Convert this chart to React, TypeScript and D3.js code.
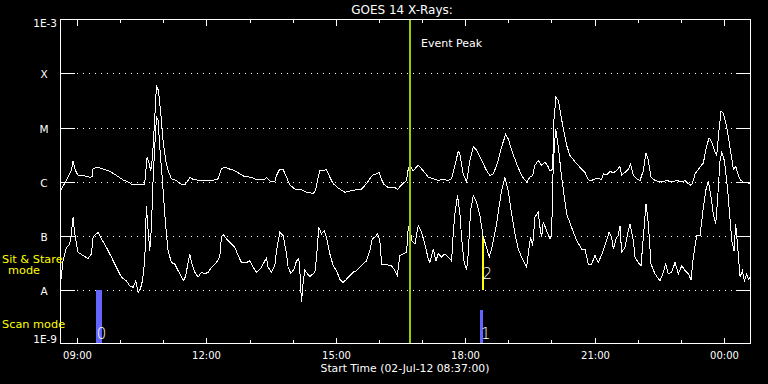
import React from "react";
import * as d3 from "d3";

// ---- data (time = minutes after start 02-Jul-12 08:37 UT, value = log10 flux W/m^2) ----
const startTimeLabel = "Start Time (02-Jul-12 08:37:00)";
const titleText = "GOES 14 X-Rays:";
const spanMinutes = 960;
const eventPeakMinute = 486; // 16:43

const longChannel: [number, number][] = [
  [0, -6.17], [8, -5.98], [15, -5.8], [17.5, -5.62], [20, -5.77], [24, -5.88], [31, -5.89], [41, -5.92], [44, -5.91], [45, -5.77],
  [52, -5.73], [59, -5.77], [68.5, -5.81], [78, -5.89], [87, -5.97], [94, -6.01], [99, -6.05], [108, -6.05], [117, -6.05], [118.6, -5.83],
  [120.5, -5.54], [123.3, -5.67], [125.6, -5.8], [127.9, -5.55], [130.2, -5.05], [133.5, -4.24], [136.2, -4.31], [139.5, -4.74], [142.7, -5.24], [146.4, -5.61],
  [149.7, -5.8], [154.3, -5.95], [161.3, -5.98], [165.9, -6.04], [172.9, -6.06], [177.5, -5.98], [179.9, -5.92], [184.5, -5.96], [193.8, -5.98], [203.1, -5.99],
  [212.3, -5.98], [219.3, -5.95], [223.9, -5.77], [228.6, -5.73], [235.5, -5.77], [242.5, -5.8], [249.5, -5.86], [256.4, -5.91], [265.7, -5.92], [272.7, -5.97],
  [284.3, -5.96], [286.6, -5.93], [291.2, -5.99], [298.2, -6.0], [300.5, -5.89], [305.1, -5.77], [309.8, -5.78], [314.4, -5.92], [319.1, -6.06], [326, -6.14],
  [335.3, -6.15], [342.3, -6.2], [351.5, -6.22], [354.8, -6.17], [357.6, -5.98], [360.8, -5.8], [365.5, -5.8], [370.1, -5.78], [374.7, -5.92], [379.4, -6.04],
  [386.3, -6.12], [395.6, -6.2], [404.9, -6.17], [411.9, -6.15], [418.8, -6.14], [425.8, -6.04], [430.4, -5.95], [435.1, -5.87], [439.7, -5.86], [443, -5.83],
  [449, -6.04], [455.9, -6.11], [465.2, -6.11], [468.9, -6.15], [474.5, -6.06], [481.5, -5.98], [483.8, -5.77], [486.1, -5.7], [490.7, -5.8], [497.7, -5.7],
  [504.7, -5.8], [511.6, -5.92], [518.6, -5.95], [525.5, -5.98], [532.5, -5.96], [539.5, -5.98], [544.1, -5.95], [548.7, -5.7], [553.4, -5.44], [555.7, -5.49],
  [560.3, -5.86], [565, -6.01], [569.6, -5.61], [574.3, -5.36], [578.9, -5.42], [585.9, -5.61], [592.8, -5.8], [597.5, -5.89], [602.1, -5.86], [607.7, -5.67],
  [613.7, -5.36], [619.3, -5.13], [623, -5.21], [627.6, -5.42], [634.6, -5.67], [641.5, -5.89], [648.5, -6.01], [653.1, -5.92], [656.9, -5.89], [660.1, -5.7],
  [664.7, -5.61], [669.4, -5.7], [674, -5.64], [678.7, -5.73], [681, -5.81], [684.7, -5.77], [686.5, -4.87], [689.3, -4.44], [692.6, -4.5], [695.8, -4.74],
  [699.5, -5.02], [704.2, -5.33], [708.8, -5.52], [718.1, -5.67], [725.1, -5.77], [729.7, -5.83], [734.3, -5.97], [739, -5.98], [745.9, -5.94], [752.9, -5.96],
  [755.2, -5.86], [759.9, -5.88], [764.5, -5.81], [769.1, -5.84], [773.8, -5.8], [778.4, -5.72], [780.7, -5.89], [785.4, -5.83], [790, -5.77], [793.3, -5.68],
  [797, -5.89], [801.6, -5.95], [806.3, -5.98], [810.9, -5.8], [814.6, -5.47], [817.9, -5.61], [821.6, -5.92], [827.1, -5.98], [836.4, -6.01], [843.4, -5.98],
  [850.3, -6.01], [857.3, -5.98], [864.3, -6.01], [868.9, -5.98], [875.9, -6.07], [879.1, -6.04], [882.8, -5.86], [889.8, -5.73], [894.4, -5.66], [897.7, -5.42],
  [902.3, -5.19], [906, -5.27], [910.7, -5.46], [913, -5.52], [916.2, -5.05], [919, -4.7], [922.3, -4.74], [926.9, -4.99], [930.6, -5.3], [936.2, -5.77],
  [939.4, -5.72], [943.1, -5.89], [946.4, -5.98], [950.1, -6.01], [957.1, -6.03], [960, -6.04],
];

const shortChannel: [number, number][] = [
  [0, -7.9], [3.5, -7.47], [8.2, -7.22], [12.8, -7.16], [15.1, -6.97], [17.5, -6.66], [19.8, -6.97], [24.4, -7.31], [31.4, -7.37], [38.3, -7.43],
  [43, -7.34], [45.3, -7.03], [52.3, -6.94], [56.9, -7.06], [63.9, -7.22], [70.8, -7.4], [77.8, -7.59], [84.7, -7.77], [91.7, -7.84], [96.3, -7.93],
  [101, -7.96], [104.7, -7.84], [108, -8.05], [111.2, -7.99], [114, -7.84], [117.2, -7.47], [119.5, -6.45], [121.9, -6.91], [124.2, -7.28], [126.5, -6.85],
  [128.8, -5.98], [131.1, -5.36], [133.5, -4.81], [135.8, -4.87], [138.1, -5.36], [141.8, -5.98], [145.1, -6.6], [147.4, -6.97], [149.7, -7.28], [154.3, -7.5],
  [159, -7.53], [163.6, -7.65], [168.3, -7.77], [171.5, -7.84], [174.3, -7.74], [177.5, -7.5], [179.9, -7.34], [182.2, -7.5], [186.8, -7.68], [191.5, -7.77],
  [196.1, -7.68], [200.7, -7.71], [205.4, -7.68], [210, -7.59], [217, -7.5], [221.6, -7.4], [223.9, -7.03], [226.3, -6.98], [230.9, -7.06], [237.9, -7.16],
  [242.5, -7.22], [247.1, -7.37], [251.8, -7.5], [258.7, -7.5], [263.4, -7.47], [268, -7.59], [272.7, -7.68], [279.6, -7.59], [284.3, -7.47], [286.6, -7.42],
  [288.9, -7.59], [293.5, -7.68], [298.2, -7.56], [300.5, -7.28], [305.1, -6.94], [309.8, -7.0], [314.4, -7.34], [316.7, -7.59], [320.5, -7.7], [325.1, -7.62],
  [328.3, -7.47], [331.6, -7.43], [333, -7.65], [335.3, -8.24], [337.6, -7.87], [339.9, -7.64], [343.7, -7.71], [346.9, -7.76], [353.9, -7.68], [356.2, -7.4],
  [359.4, -6.85], [363.1, -6.97], [366.9, -6.91], [370.1, -7.03], [374.7, -7.34], [379.4, -7.56], [384, -7.65], [388.7, -7.81], [393.3, -7.87], [397.9, -7.81],
  [402.6, -7.74], [407.2, -7.68], [411.9, -7.65], [416.5, -7.59], [421.1, -7.52], [425.8, -7.47], [430.4, -7.28], [433.7, -7.06], [437.4, -7.03], [441.1, -6.97],
  [444.3, -7.09], [446.7, -7.53], [453.6, -7.54], [460.6, -7.56], [465.2, -7.65], [468.5, -7.74], [472.2, -7.37], [476.8, -7.34], [481.5, -7.31], [483.8, -6.85],
  [486.1, -6.79], [488.4, -7.09], [493.1, -7.16], [497.7, -6.82], [502.3, -6.94], [507, -7.16], [511.6, -7.43], [513.9, -7.5], [518.6, -7.25], [522.3, -7.47],
  [525.5, -7.34], [530.2, -7.4], [534.8, -7.34], [539.5, -7.4], [544.1, -7.47], [546.4, -6.97], [548.7, -6.6], [552.5, -6.26], [555.7, -6.6], [558, -7.03],
  [561.3, -7.47], [565, -7.64], [567.3, -7.34], [570.5, -6.54], [574.3, -6.26], [578.9, -6.38], [583.5, -6.63], [588.2, -7.03], [592.8, -7.22], [596.5, -7.4],
  [599.8, -7.25], [603, -7.03], [606.7, -6.79], [610, -6.48], [613.7, -6.17], [618.3, -5.92], [623, -6.17], [627.6, -6.6], [632.3, -6.97], [636.9, -7.25],
  [641.5, -7.4], [646.2, -7.53], [648.5, -7.59], [651.7, -7.25], [654.1, -7.03], [656.9, -7.19], [660.1, -6.66], [664.7, -6.57], [667.1, -6.85], [669.4, -7.03],
  [671.7, -6.75], [676.3, -6.91], [681, -7.06], [683.3, -6.97], [685.6, -5.67], [688.9, -5.02], [692.6, -5.36], [697.2, -5.92], [704.2, -6.6], [711.1, -6.85],
  [718.1, -7.09], [725.1, -7.25], [729.7, -7.25], [734.3, -7.53], [739, -7.53], [743.6, -7.37], [748.3, -7.5], [755.2, -7.28], [759.9, -7.09], [763.1, -6.94],
  [766.8, -7.03], [769.1, -7.25], [773.8, -7.03], [776.1, -7.0], [778.4, -6.82], [780.7, -7.31], [785.4, -7.22], [790, -6.91], [792.3, -6.79], [797, -7.09],
  [799.3, -7.4], [803.9, -7.5], [807.7, -7.56], [810.9, -7.03], [814.6, -6.41], [817.9, -6.79], [821.6, -7.53], [827.1, -7.71], [834.1, -7.84], [838.7, -7.68],
  [842, -7.53], [845.7, -7.71], [850.3, -7.68], [855, -7.5], [859.6, -7.71], [864.3, -7.56], [868.9, -7.65], [873.5, -7.71], [877.3, -7.82], [880.5, -7.4],
  [885.1, -7.0], [889.8, -7.0], [894.4, -6.48], [897.7, -6.17], [901.4, -5.99], [905.1, -6.29], [908.3, -6.6], [911.6, -6.79], [914.4, -6.29], [917.6, -5.61],
  [919.9, -5.46], [923.6, -5.61], [928.3, -6.17], [933.9, -7.09], [937.1, -7.28], [939.4, -6.79], [942.2, -7.22], [945.5, -7.77], [948.7, -7.65], [951.5, -7.84],
  [954.7, -7.71], [957.1, -7.81], [960, -7.77],
];

const classLabels = ["X", "M", "C", "B", "A"];
const classFlux = [1e-4, 1e-5, 1e-6, 1e-7, 1e-8];
const decadeLabels = ["1E-3", "1E-9"];

// observation markers: id, start min, end min, bottom flux, top flux, mode
const obsIds = ["0", "1", "2"];
const obsStart = [49, 583.5, 585.8];
const obsEnd = [58.3, 587.3, 588.3];
const obsBottom = [1e-9, 1e-9, 1e-8];
const obsTop = [1e-8, 4.1e-9, 1e-7];
const obsMode = ["scan", "scan", "stare"];

const W = 768;
const H = 384;
const L = 60.5, R = 750.5, T = 19.5, B = 343.5;
const FONT = "DejaVu Sans, sans-serif";

export default function App() {
  const start = new Date(Date.UTC(2012, 6, 2, 8, 37));
  const toDate = (m: number) => new Date(start.getTime() + m * 60000);
  const x = d3.scaleUtc().domain([toDate(0), toDate(spanMinutes)]).range([L, R]);
  const y = d3.scaleLog().domain([1e-9, 1e-3]).range([B, T]);
  const line = d3
    .line<[number, number]>()
    .x((d) => x(toDate(d[0])))
    .y((d) => y(Math.pow(10, d[1])));
  const hourTicks = x.ticks(d3.utcHour.every(1) as any);
  const fmt = d3.utcFormat("%H:%M");
  const ex = Math.round(x(toDate(eventPeakMinute)));

  return (
    <div style={{ position: "fixed", left: 0, top: 0, width: W, height: H, background: "#000" }}>
      <svg width={W} height={H} style={{ display: "block" }} fontFamily={FONT}>
        <rect x={0} y={0} width={W} height={H} fill="#000" />
        <text x={402} y={14} fill="#fff" fontSize={12} textAnchor="middle">{titleText}</text>

        {classFlux.map((f, i) => {
          const yy = Math.round(y(f)) + 0.5;
          return (
            <g key={classLabels[i]} shapeRendering="crispEdges">
              <line x1={77} x2={736} y1={yy} y2={yy} stroke="#fff" strokeDasharray="1 5" />
              <line x1={L} x2={75} y1={yy} y2={yy} stroke="#fff" />
              <line x1={736} x2={R} y1={yy} y2={yy} stroke="#fff" />
              <text x={44} y={yy + 4} fill="#fff" fontSize={10.5} textAnchor="middle">{classLabels[i]}</text>
            </g>
          );
        })}
        <text x={57} y={27} fill="#fff" fontSize={10.5} textAnchor="end">{decadeLabels[0]}</text>
        <text x={57} y={343} fill="#fff" fontSize={10.5} textAnchor="end">{decadeLabels[1]}</text>

        {hourTicks.map((t) => {
          const xx = Math.round(x(t)) + 0.5;
          const major = t.getUTCHours() % 3 === 0;
          const len = major ? 6 : 3.5;
          return (
            <g key={t.getTime()} shapeRendering="crispEdges">
              <line x1={xx} x2={xx} y1={T} y2={T + len} stroke="#fff" />
              <line x1={xx} x2={xx} y1={B} y2={B - len} stroke="#fff" />
              {major && (
                <text x={xx} y={358.5} fill="#fff" fontSize={10} textAnchor="middle">{fmt(t)}</text>
              )}
            </g>
          );
        })}
        <text x={405} y={372} fill="#fff" fontSize={10.8} textAnchor="middle">{startTimeLabel}</text>

        {obsIds.map((id, i) => {
          const x0 = x(toDate(obsStart[i]));
          const x1 = x(toDate(obsEnd[i]));
          const yTop = y(obsTop[i]);
          const yBot = y(obsBottom[i]);
          const color = obsMode[i] === "scan" ? "#6464ff" : "#ffff00";
          const ly = obsMode[i] === "scan" ? B - 5 : y(1e-8) - 11;
          return (
            <g key={id}>
              <rect x={x0} y={yTop} width={Math.max(2, x1 - x0)} height={yBot - yTop} fill={color} shapeRendering="crispEdges" />
              <text x={x0 + 1} y={ly} fill="#fff" fontSize={15} fontWeight={200}>{id}</text>
            </g>
          );
        })}

        <path d={line(longChannel) || ""} fill="none" stroke="#fff" strokeWidth={1} shapeRendering="crispEdges" />
        <path d={line(shortChannel) || ""} fill="none" stroke="#fff" strokeWidth={1} shapeRendering="crispEdges" />

        <line x1={ex} x2={ex} y1={T} y2={B} stroke="#99cc00" strokeWidth={2} shapeRendering="crispEdges" />
        <text x={421} y={47} fill="#fff" fontSize={11}>Event Peak</text>

        <rect x={L} y={T} width={R - L} height={B - T} fill="none" stroke="#fff" shapeRendering="crispEdges" />

        <text x={2} y={262.5} fill="#ffff00" fontSize={11.3}>Sit &amp; Stare</text>
        <text x={24} y={274} fill="#ffff00" fontSize={11.3} textAnchor="middle">mode</text>
        <text x={2} y={327.5} fill="#ffff00" fontSize={11.3}>Scan mode</text>
      </svg>
    </div>
  );
}
